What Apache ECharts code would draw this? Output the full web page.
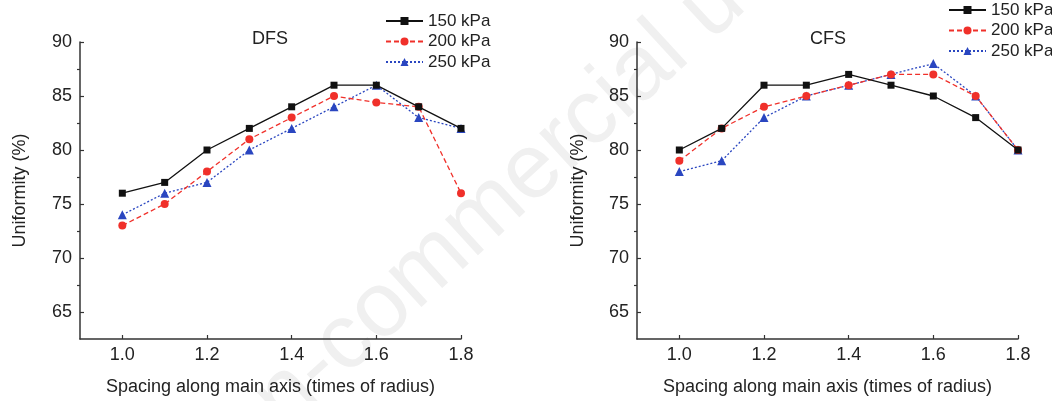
<!DOCTYPE html>
<html>
<head>
<meta charset="utf-8">
<script src="https://cdn.jsdelivr.net/npm/echarts@6/dist/echarts.min.js"></script>
<style>html,body{margin:0;padding:0;background:#fff}#c{width:1052px;height:401px}</style>
</head>
<body>
<div id="c"></div>
<script>
const spacing = [1.0, 1.1, 1.2, 1.3, 1.4, 1.5, 1.6, 1.7, 1.8];
const seriesNames = ['150 kPa', '200 kPa', '250 kPa'];
const panelTitles = ['DFS', 'CFS'];
const dfs150 = [76, 77, 80, 82, 84, 86, 86, 84, 82];
const dfs200 = [73, 75, 78, 81, 83, 85, 84.4, 84, 76];
const dfs250 = [74, 76, 77, 80, 82, 84, 86, 83, 82];
const cfs150 = [80, 82, 86, 86, 87, 86, 85, 83, 80];
const cfs200 = [79, 82, 84, 85, 86, 87, 87, 85, 80];
const cfs250 = [78, 79, 83, 85, 86, 87, 88, 85, 80];
const yMajorTicks = [65, 70, 75, 80, 85, 90];
const yMinorTicks = [67.5, 72.5, 77.5, 82.5, 87.5];
const xTickLabels = [1.0, 1.2, 1.4, 1.6, 1.8];
const watermarkText = 'Non-commercial use';

const FONT = 'Liberation Sans, Arial, sans-serif';
const TXT = '#222';
const AX = '#333';
const styles = [
  {color: '#111', type: 'solid', symbol: 'rect', size: 7},
  {color: '#f0302a', type: [5, 3], symbol: 'circle', size: 8},
  {color: '#2a46c0', type: [2, 2], symbol: 'triangle', size: 9}
];
const panels = [[dfs150, dfs200, dfs250], [cfs150, cfs200, cfs250]];
const grids = [
  {left: 80, right: 591, top: 42, bottom: 59},
  {left: 637, right: 34, top: 42, bottom: 59}
];
const titleX = [270, 828];
const yNameGap = [51, 50];
const legendPos = [{left: 385, top: 12}, {left: 948, top: 1}];

const option = {
  animation: false,
  backgroundColor: '#fff',
  graphic: [{
    type: 'text', x: 492, y: 208, rotation: 0.742, z: -10, silent: true,
    style: {text: watermarkText, font: '92px Liberation Sans, Arial, sans-serif',
      fill: '#f0f0f0', align: 'center', verticalAlign: 'middle'}
  }],
  title: panelTitles.map((t, i) => ({
    text: t, left: titleX[i], top: 30, textAlign: 'center', padding: 0,
    textStyle: {fontFamily: FONT, fontSize: 18, fontWeight: 'normal', color: TXT}
  })),
  legend: legendPos.map((p, i) => ({
    data: seriesNames, orient: 'vertical', left: p.left, top: p.top,
    itemWidth: 37, itemHeight: 10, itemGap: 2.5, padding: 0,
    textStyle: {fontFamily: FONT, fontSize: 17, color: TXT, lineHeight: 18},
    selectedMode: false
  })),
  grid: grids,
  xAxis: grids.map((g, i) => ({
    type: 'value', gridIndex: i, min: 0.9, max: 1.8, interval: 0.1,
    name: 'Spacing along main axis (times of radius)', nameLocation: 'middle', nameGap: 39,
    nameTextStyle: {fontFamily: FONT, fontSize: 18, color: TXT},
    axisLine: {show: true, onZero: false, lineStyle: {color: AX, width: 1.5}},
    axisTick: {show: true, inside: true, length: 4, customValues: xTickLabels, lineStyle: {color: AX, width: 1.2}},
    axisLabel: {customValues: xTickLabels, fontFamily: FONT, fontSize: 18, color: TXT, margin: 7,
      formatter: v => v.toFixed(1)},
    splitLine: {show: false}
  })),
  yAxis: [].concat(...grids.map((g, i) => [
    {
      type: 'value', gridIndex: i, min: 62.5, max: 90, interval: 2.5,
      name: 'Uniformity (%)', nameLocation: 'middle', nameGap: yNameGap[i],
      nameTextStyle: {fontFamily: FONT, fontSize: 18, color: TXT},
      axisLine: {show: true, onZero: false, lineStyle: {color: AX, width: 1.5}},
      axisTick: {show: true, inside: true, length: 4, customValues: yMajorTicks, lineStyle: {color: AX, width: 1.2}},
      axisLabel: {customValues: yMajorTicks, fontFamily: FONT, fontSize: 18, color: TXT, margin: 8},
      splitLine: {show: false}
    },
    {
      type: 'value', gridIndex: i, min: 62.5, max: 90, interval: 2.5, position: 'left',
      axisLine: {show: false},
      axisTick: {show: true, inside: false, length: 3, customValues: yMinorTicks, lineStyle: {color: AX, width: 1.2}},
      axisLabel: {show: false},
      splitLine: {show: false}
    }
  ])),
  series: [].concat(...panels.map((vals, p) => vals.map((arr, k) => ({
    type: 'line', name: seriesNames[k], xAxisIndex: p, yAxisIndex: p * 2,
    data: spacing.map((x, j) => [x, arr[j]]),
    symbol: styles[k].symbol, symbolSize: styles[k].size,
    itemStyle: {color: styles[k].color},
    lineStyle: {color: styles[k].color, width: 1.3, type: styles[k].type},
    z: 3 - k
  }))))
};
const chart = echarts.init(document.getElementById('c'), null, {renderer: 'canvas'});
chart.setOption(option);
</script>
</body>
</html>
